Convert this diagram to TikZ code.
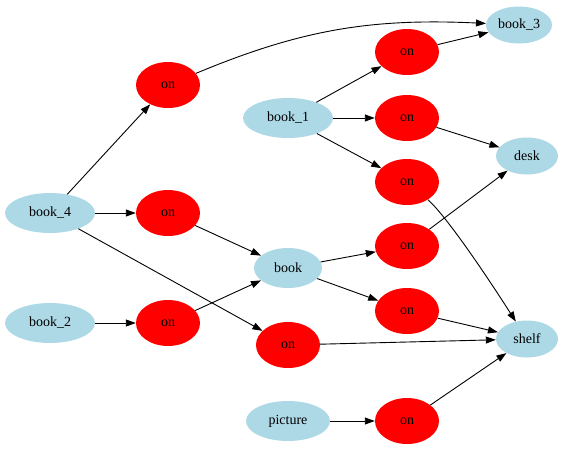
\documentclass[tikz,border=0pt]{standalone}
\usepackage{fontspec}
\setmainfont{Liberation Serif}
\usetikzlibrary{shapes.geometric,arrows.meta}
\definecolor{nodeblue}{HTML}{ADD8E6}
\definecolor{nodered}{HTML}{FF0000}
\begin{document}
\begin{tikzpicture}[x=1pt,y=-1pt,
  thing/.style={ellipse,fill=nodeblue,inner sep=0pt,minimum height=40pt,font=\fontsize{14}{16}\selectfont},
  rel/.style={ellipse,fill=nodered,inner sep=0pt,minimum width=64pt,minimum height=46pt,font=\fontsize{14}{16}\selectfont},
  edge/.style={-{Triangle[length=10pt,width=7pt]},line width=0.9pt}]
\useasboundingbox (0,0) rectangle (576,448);
\node[thing,minimum width=90pt] (book4) at (50,213){book\_4};
\node[thing,minimum width=90pt] (book2) at (50,323){book\_2};
\node[rel] (on0) at (168,85){on};
\node[rel] (on1) at (168,213){on};
\node[rel] (on2) at (168,323){on};
\node[thing,minimum width=90pt] (book1) at (288,118){book\_1};
\node[thing,minimum width=68pt] (book) at (288,268){book};
\node[rel] (on3) at (288,345){on};
\node[thing,minimum width=84pt] (picture) at (288,421){picture};
\node[rel] (on4) at (407,52){on};
\node[rel] (on5) at (407,118){on};
\node[rel] (on6) at (407,182){on};
\node[rel] (on7) at (407,246){on};
\node[rel] (on8) at (407,311){on};
\node[rel] (on9) at (407,421){on};
\node[thing,minimum width=66pt,minimum height=37pt] (book3) at (519,25){book\_3};
\node[thing,minimum width=62pt,minimum height=37pt] (desk) at (527,156){desk};
\node[thing,minimum width=62pt,minimum height=37pt] (shelf) at (527,339){shelf};
\draw[edge] (book4) -- (on0);
\draw[edge] (on0) .. controls (300,30) and (370,18) .. (book3);
\draw[edge] (book4) -- (on1);
\draw[edge] (on1) -- (book);
\draw[edge] (book4) -- (on3);
\draw[edge] (on3) -- (shelf);
\draw[edge] (book2) -- (on2);
\draw[edge] (on2) -- (book);
\draw[edge] (book1) -- (on4);
\draw[edge] (on4) -- (book3);
\draw[edge] (book1) -- (on5);
\draw[edge] (on5) -- (desk);
\draw[edge] (book1) -- (on6);
\draw[edge] (on6) .. controls (440,210) and (470,250) .. (shelf);
\draw[edge] (book) -- (on7);
\draw[edge] (on7) -- (desk);
\draw[edge] (book) -- (on8);
\draw[edge] (on8) -- (shelf);
\draw[edge] (picture) -- (on9);
\draw[edge] (on9) -- (shelf);
\end{tikzpicture}
\end{document}
